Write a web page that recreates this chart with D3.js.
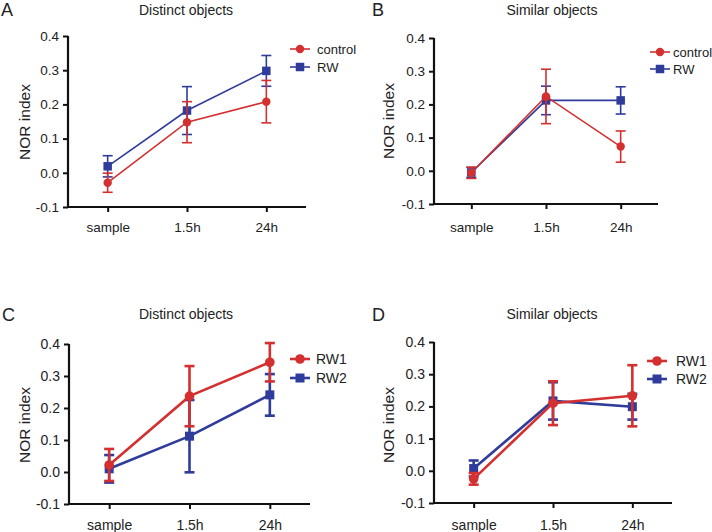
<!DOCTYPE html>
<html><head><meta charset="utf-8">
<script src="https://cdn.jsdelivr.net/npm/d3@7"></script>
<style>body{margin:0;background:#fff}svg{display:block}text{font-family:"Liberation Sans",Arial,sans-serif;fill:#222}</style>
</head><body><svg id="c" width="712" height="532"></svg>
<script>
const categories = ["sample", "1.5h", "24h"];
const yTicks = [-0.1, 0.0, 0.1, 0.2, 0.3, 0.4];
const panelLetters = ["A", "B", "C", "D"];
const panelTitles = ["Distinct objects", "Similar objects", "Distinct objects", "Similar objects"];
const seriesNamesAB = ["control", "RW"];
const seriesNamesCD = ["RW1", "RW2"];

// Panel A
const aControlMean = [-0.029, 0.148, 0.208];
const aControlErr  = [0.028, 0.060, 0.062];
const aRWMean      = [0.019, 0.182, 0.298];
const aRWErr       = [0.031, 0.070, 0.045];
// Panel B
const bControlMean = [-0.006, 0.224, 0.073];
const bControlErr  = [0.017, 0.082, 0.047];
const bRWMean      = [-0.005, 0.212, 0.212];
const bRWErr       = [0.015, 0.043, 0.041];
// Panel C
const cRW1Mean = [0.022, 0.237, 0.343];
const cRW1Err  = [0.050, 0.094, 0.060];
const cRW2Mean = [0.010, 0.112, 0.241];
const cRW2Err  = [0.043, 0.113, 0.065];
// Panel D
const dRW1Mean = [-0.025, 0.210, 0.233];
const dRW1Err  = [0.018, 0.068, 0.095];
const dRW2Mean = [0.007, 0.217, 0.199];
const dRW2Err  = [0.025, 0.058, 0.040];

const RED = "#d3302f", BLUE = "#2f3c9c";
const svg = d3.select("#c");

const layouts = [
  {x0:68,  x1:306, yTop:36,  yBot:207, title:[186,15],  letter:[1,16],   ylab:[25,122], xlabY:232, leg:{mx:300,y1:49,y2:67,tx:317,fs:13}, lw:1.6, r:4.2, sq:8.5, tfs:13.5},
  {x0:434, x1:658, yTop:38,  yBot:204, title:[552,15],  letter:[372,16], ylab:[389,121], xlabY:232, leg:{mx:660,y1:52,y2:69,tx:673,fs:13}, lw:1.6, r:4.2, sq:8.5, tfs:13.5},
  {x0:69,  x1:310, yTop:344, yBot:504, title:[186,319], letter:[2,321],  ylab:[25,425], xlabY:530, leg:{mx:300,y1:359,y2:378,tx:316,fs:14}, lw:2.6, r:4.8, sq:9, tfs:14},
  {x0:434, x1:672, yTop:342, yBot:503, title:[552,319], letter:[372,321],ylab:[389,425], xlabY:530, leg:{mx:657,y1:361,y2:379,tx:676,fs:14}, lw:2.6, r:4.8, sq:9, tfs:14}
];

const panelData = [
  {names:seriesNamesAB, s:[{m:aControlMean,e:aControlErr},{m:aRWMean,e:aRWErr}]},
  {names:seriesNamesAB, s:[{m:bControlMean,e:bControlErr},{m:bRWMean,e:bRWErr}]},
  {names:seriesNamesCD, s:[{m:cRW1Mean,e:cRW1Err},{m:cRW2Mean,e:cRW2Err}]},
  {names:seriesNamesCD, s:[{m:dRW1Mean,e:dRW1Err},{m:dRW2Mean,e:dRW2Err}]}
];

function drawMarker(g, i, cx, cy, L, color) {
  if (i === 0) g.append("circle").attr("cx",cx).attr("cy",cy).attr("r",L.r).attr("fill",color);
  else g.append("rect").attr("x",cx-L.sq/2).attr("y",cy-L.sq/2).attr("width",L.sq).attr("height",L.sq).attr("fill",color);
}

layouts.forEach((L, p) => {
  const g = svg.append("g");
  const x = d3.scalePoint().domain(categories).range([L.x0, L.x1]).padding(0.5);
  const y = d3.scaleLinear().domain([-0.1, 0.4]).range([L.yBot, L.yTop]);

  const ya = g.append("g").attr("transform",`translate(${L.x0},0)`)
    .call(d3.axisLeft(y).tickValues(yTicks).tickFormat(d3.format(".1f")).tickSize(5).tickPadding(4));
  const xa = g.append("g").attr("transform",`translate(0,${L.yBot})`)
    .call(d3.axisBottom(x).tickSize(5).tickPadding(12));
  [ya, xa].forEach(a => {
    a.select(".domain").attr("stroke","#111").attr("stroke-width",2.2);
    a.selectAll(".tick line").attr("stroke","#111").attr("stroke-width",2);
    a.selectAll(".tick text").style("font-family",'"Liberation Sans",Arial,sans-serif').style("font-size",L.tfs+"px").attr("fill","#222");
  });
  ya.selectAll(".tick text").text(d => d3.format(".1f")(d).replace("−","-"));
  ya.select(".domain").attr("d", `M0,${L.yBot}V${L.yTop}`);
  xa.select(".domain").attr("d", `M${L.x0},0H${L.x1}`);
  xa.selectAll(".tick text").attr("y", L.xlabY - L.yBot).attr("dy", 0);

  g.append("text").attr("x",L.title[0]).attr("y",L.title[1]).attr("text-anchor","middle").style("font-size","14px").text(panelTitles[p]);
  g.append("text").attr("x",L.letter[0]).attr("y",L.letter[1]).style("font-size","18px").text(panelLetters[p]);
  g.append("text").attr("transform",`translate(${L.ylab[0]},${L.ylab[1]}) rotate(-90)`).attr("text-anchor","middle").attr("dy","0.35em").style("font-size","15.5px").text("NOR index");

  const D = panelData[p];
  const colors = [RED, BLUE];
  [1, 0].forEach(i => {
    const s = D.s[i], col = colors[i];
    const sg = g.append("g");
    const pts = categories.map((c, k) => ({c, m:s.m[k], e:s.e[k]}));
    sg.append("path").datum(pts).attr("fill","none").attr("stroke",col).attr("stroke-width",L.lw)
      .attr("d", d3.line().x(d => x(d.c)).y(d => y(d.m)));
    pts.forEach(d => {
      const cx = x(d.c);
      sg.append("line").attr("x1",cx).attr("x2",cx).attr("y1",y(d.m-d.e)).attr("y2",y(d.m+d.e)).attr("stroke",col).attr("stroke-width",L.lw);
      [d.m-d.e, d.m+d.e].forEach(v => sg.append("line").attr("x1",cx-5).attr("x2",cx+5).attr("y1",y(v)).attr("y2",y(v)).attr("stroke",col).attr("stroke-width",L.lw));
      drawMarker(sg, i, cx, y(d.m), L, col);
    });
  });

  [0, 1].forEach(i => {
    const ly = i === 0 ? L.leg.y1 : L.leg.y2;
    const col = colors[i];
    g.append("line").attr("x1",L.leg.mx-10).attr("x2",L.leg.mx+10).attr("y1",ly).attr("y2",ly).attr("stroke",col).attr("stroke-width",L.lw);
    drawMarker(g, i, L.leg.mx, ly, L, col);
    g.append("text").attr("x",L.leg.tx).attr("y",ly).attr("dy","0.35em").style("font-size",L.leg.fs+"px").text(D.names[i]);
  });
});
</script></body></html>
